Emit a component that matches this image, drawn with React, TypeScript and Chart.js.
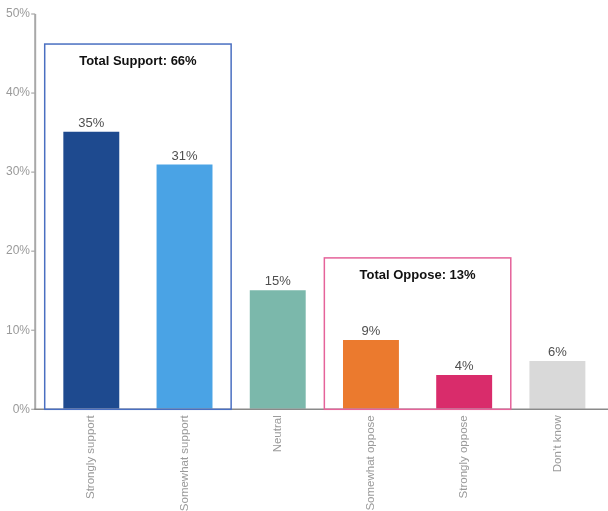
import React, { useEffect, useRef } from "react";
import { Chart, registerables } from "chart.js";

Chart.register(...registerables);

const categories = ["Strongly support", "Somewhat support", "Neutral", "Somewhat oppose", "Strongly oppose", "Don’t know"];
const values = [35.1, 30.95, 15.05, 8.75, 4.35, 6.1];
const valueLabels = ["35%", "31%", "15%", "9%", "4%", "6%"];
const barColors = ["#1e4a8f", "#4aa3e5", "#7bb8ab", "#eb7a2e", "#d92c6b", "#d9d9d9"];
const yTicksMax = 50;
const yTickStep = 10;

const groupTitles = ["Total Support: 66%", "Total Oppose: 13%"];
const groupFrom = [0, 3];
const groupTo = [1, 4];
const groupTop = [46.2, 19.15];
const groupColors = ["#4a6fc1", "#e5639a"];

const FONT = "'Liberation Sans', Arial, sans-serif";

export default function App() {
  const ref = useRef<HTMLCanvasElement | null>(null);

  useEffect(() => {
    document.body.style.margin = "0";
    const canvas = ref.current;
    if (!canvas) return;

    const overlay = {
      id: "overlay",
      afterDatasetsDraw(chart: any) {
        const ctx = chart.ctx;
        const x = chart.scales.x;
        const y = chart.scales.y;
        const area = chart.chartArea;
        ctx.save();
        // axis lines
        const axisX = area.left - 9.5;
        ctx.strokeStyle = "#a8a8a8";
        ctx.lineWidth = 2;
        ctx.beginPath();
        ctx.moveTo(axisX, area.top);
        ctx.lineTo(axisX, area.bottom);
        ctx.stroke();
        ctx.lineWidth = 1.2;
        y.ticks.forEach((t: any) => {
          const py = y.getPixelForValue(t.value);
          ctx.beginPath();
          ctx.moveTo(axisX - 4, py);
          ctx.lineTo(axisX, py);
          ctx.stroke();
        });
        ctx.strokeStyle = "#8a8a8a";
        ctx.lineWidth = 1.5;
        ctx.beginPath();
        ctx.moveTo(axisX - 1, area.bottom);
        ctx.lineTo(chart.width, area.bottom);
        ctx.stroke();

        // value labels
        const meta = chart.getDatasetMeta(0);
        ctx.fillStyle = "#4f4f4f";
        ctx.font = `13px ${FONT}`;
        ctx.textAlign = "center";
        ctx.textBaseline = "bottom";
        meta.data.forEach((el: any, i: number) => {
          ctx.fillText(valueLabels[i], el.x, el.y - 2);
        });

        // group boxes
        const catW = x.width / categories.length;
        groupTitles.forEach((title, g) => {
          const left = x.getPixelForValue(groupFrom[g]) - catW / 2;
          const right = x.getPixelForValue(groupTo[g]) + catW / 2;
          const top = y.getPixelForValue(groupTop[g]);
          const bottom = y.getPixelForValue(0);
          ctx.strokeStyle = groupColors[g];
          ctx.lineWidth = 1.5;
          ctx.strokeRect(left, top, right - left, bottom - top);
          ctx.fillStyle = "#111111";
          ctx.font = `bold 13px ${FONT}`;
          ctx.textAlign = "center";
          ctx.textBaseline = "middle";
          ctx.fillText(title, (left + right) / 2, top + 17.5);
        });
        ctx.restore();
      },
    };

    const chart = new Chart(canvas, {
      type: "bar",
      data: {
        labels: categories,
        datasets: [
          {
            data: values,
            backgroundColor: barColors,
            barPercentage: 0.6,
            categoryPercentage: 1,
          },
        ],
      },
      options: {
        animation: false,
        responsive: true,
        maintainAspectRatio: false,
        layout: { padding: { top: 14, right: 4, left: 0, bottom: 0 } },
        plugins: { legend: { display: false }, tooltip: { enabled: false } },
        scales: {
          x: {
            grid: { display: false, drawTicks: false },
            border: { display: false },
            ticks: {
              minRotation: 90,
              maxRotation: 90,
              padding: 6,
              color: "#9a9a9a",
              font: { family: FONT, size: 11.5 },
            },
            afterFit(scale: any) {
              scale.height = 101.7;
            },
          },
          y: {
            min: 0,
            max: yTicksMax,
            grid: {
              display: true,
              drawOnChartArea: false,
              drawTicks: true,
              tickLength: 9.7,
              color: "rgba(0,0,0,0)",
            },
            border: { display: false },
            ticks: {
              stepSize: yTickStep,
              padding: 5,
              color: "#9a9a9a",
              font: { family: FONT, size: 12 },
              callback: (v: any) => `${v}%`,
            },
            afterFit(scale: any) {
              scale.width = 44.7;
            },
          },
        },
      },
      plugins: [overlay],
    });
    return () => chart.destroy();
  }, []);

  return (
    <div style={{ width: 608, height: 511, position: "relative" }}>
      <canvas ref={ref} />
    </div>
  );
}
